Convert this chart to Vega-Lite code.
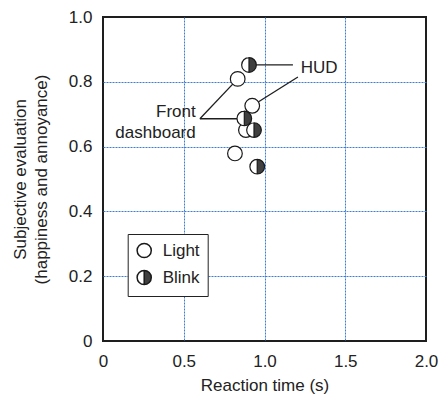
{
  "$schema": "https://vega.github.io/schema/vega-lite/v6.json",
  "width": 323,
  "height": 324,
  "autosize": "none",
  "padding": {"left": 103, "top": 17, "right": 20, "bottom": 53},
  "config": {
    "font": "Liberation Sans",
    "view": {"stroke": "#1e1e1e", "strokeWidth": 2},
    "axis": {
      "ticks": false,
      "domain": false,
      "labelFontSize": 17,
      "labelColor": "#222",
      "labelFlush": false,
      "labelOverlap": false,
      "titleFontSize": 17,
      "titleFontWeight": "normal",
      "titleColor": "#222",
      "grid": true,
      "gridDash": [2, 1],
      "gridWidth": 1
    },
    "legend": {
      "title": null,
      "orient": "none",
      "legendX": 24.7,
      "legendY": 217,
      "padding": 8,
      "fillColor": "white",
      "strokeColor": "#222",
      "symbolSize": 200,
      "labelFontSize": 17,
      "labelColor": "#222",
      "labelOffset": 10,
      "rowPadding": 6
    }
  },
  "datasets": {
    "light": [
      {"type": "Light", "rt": 0.834, "eval": 0.809},
      {"type": "Light", "rt": 0.924, "eval": 0.726},
      {"type": "Light", "rt": 0.885, "eval": 0.651},
      {"type": "Light", "rt": 0.817, "eval": 0.579}
    ],
    "blink": [
      {"type": "Blink", "rt": 0.904, "eval": 0.852},
      {"type": "Blink", "rt": 0.875, "eval": 0.687},
      {"type": "Blink", "rt": 0.935, "eval": 0.651},
      {"type": "Blink", "rt": 0.955, "eval": 0.538}
    ],
    "leaders": [
      {"seg": "HUD-a", "x": 0.904, "y": 0.852, "x2": 1.176, "y2": 0.852},
      {"seg": "HUD-b", "x": 1.207, "y": 0.815, "x2": 0.924, "y2": 0.726},
      {"seg": "FD-a", "x": 0.6, "y": 0.686, "x2": 0.834, "y2": 0.809},
      {"seg": "FD-b", "x": 0.6, "y": 0.686, "x2": 0.875, "y2": 0.686}
    ],
    "labelsLeft": [
      {"label": "HUD", "x": 1.224, "y": 0.828}
    ],
    "labelsRight": [
      {"label": "Front", "x": 0.574, "y": 0.692},
      {"label": "dashboard", "x": 0.574, "y": 0.626}
    ]
  },
  "layer": [
    {
      "data": {"name": "leaders"},
      "mark": {"type": "rule", "color": "#1e1e1e", "strokeWidth": 1.3},
      "encoding": {
        "x": {
          "field": "x", "type": "quantitative",
          "scale": {"domain": [0, 2], "nice": false},
          "axis": {
            "values": [0, 0.5, 1, 1.5, 2],
            "labelExpr": "datum.value === 0 ? '0' : format(datum.value, '.1f')",
            "labelPadding": 12,
            "gridColor": {"condition": {"test": "datum.value === 0 || datum.value === 2", "value": "transparent"}, "value": "#3b7dd8"},
            "title": "Reaction time (s)",
            "titleBaseline": "alphabetic",
            "titleY": 49
          }
        },
        "y": {
          "field": "y", "type": "quantitative",
          "scale": {"domain": [0, 1], "nice": false},
          "axis": {
            "values": [0, 0.2, 0.4, 0.6, 0.8, 1],
            "labelExpr": "datum.value === 0 ? '0' : format(datum.value, '.1f')",
            "labelPadding": 11,
            "gridColor": {"condition": {"test": "datum.value === 0 || datum.value === 1", "value": "transparent"}, "value": "#3b7dd8"},
            "title": ["Subjective evaluation", "(happiness and annoyance)"],
            "titleLineHeight": 21,
            "titleAngle": -90,
            "titleAlign": "center",
            "titleBaseline": "middle",
            "titleX": -83,
            "titleY": 162
          }
        },
        "x2": {"field": "x2"},
        "y2": {"field": "y2"}
      }
    },
    {
      "data": {"name": "light"},
      "mark": {"type": "point", "filled": true, "size": 215, "stroke": "#1a1a1a", "strokeWidth": 1.2, "opacity": 1},
      "encoding": {
        "x": {"field": "rt", "type": "quantitative"},
        "y": {"field": "eval", "type": "quantitative"},
        "shape": {
          "field": "type", "type": "nominal",
          "scale": {"domain": ["Light", "Blink"], "range": ["circle", "M0,-1A1,1,0,0,1,0,1ZM0,-1A1,1,0,0,0,0,1A1,1,0,0,1,0,-1"]},
          "legend": {
            "encode": {
              "legend": {"update": {"strokeDash": {"value": [1, 1]}}},
              "symbols": {
                "update": {
                  "stroke": {"value": "#1a1a1a"},
                  "strokeWidth": {"value": 1.2},
                  "opacity": {"value": 1}
                }
              }
            }
          }
        },
        "fill": {
          "field": "type", "type": "nominal",
          "scale": {"domain": ["Light", "Blink"], "range": ["white", "#404040"]}
        }
      }
    },
    {
      "data": {"name": "blink"},
      "mark": {"type": "point", "shape": "circle", "filled": true, "size": 215, "fill": "white", "strokeOpacity": 0, "opacity": 1},
      "encoding": {
        "x": {"field": "rt", "type": "quantitative"},
        "y": {"field": "eval", "type": "quantitative"}
      }
    },
    {
      "data": {"name": "blink"},
      "mark": {"type": "point", "filled": true, "size": 215, "stroke": "#1a1a1a", "strokeWidth": 1.2, "opacity": 1},
      "encoding": {
        "x": {"field": "rt", "type": "quantitative"},
        "y": {"field": "eval", "type": "quantitative"},
        "shape": {"field": "type", "type": "nominal"},
        "fill": {"field": "type", "type": "nominal"}
      }
    },
    {
      "data": {"name": "labelsLeft"},
      "mark": {"type": "text", "align": "left", "baseline": "alphabetic", "fontSize": 17, "color": "#222"},
      "encoding": {
        "x": {"field": "x", "type": "quantitative"},
        "y": {"field": "y", "type": "quantitative"},
        "text": {"field": "label"}
      }
    },
    {
      "data": {"name": "labelsRight"},
      "mark": {"type": "text", "align": "right", "baseline": "alphabetic", "fontSize": 17, "color": "#222"},
      "encoding": {
        "x": {"field": "x", "type": "quantitative"},
        "y": {"field": "y", "type": "quantitative"},
        "text": {"field": "label"}
      }
    }
  ]
}
